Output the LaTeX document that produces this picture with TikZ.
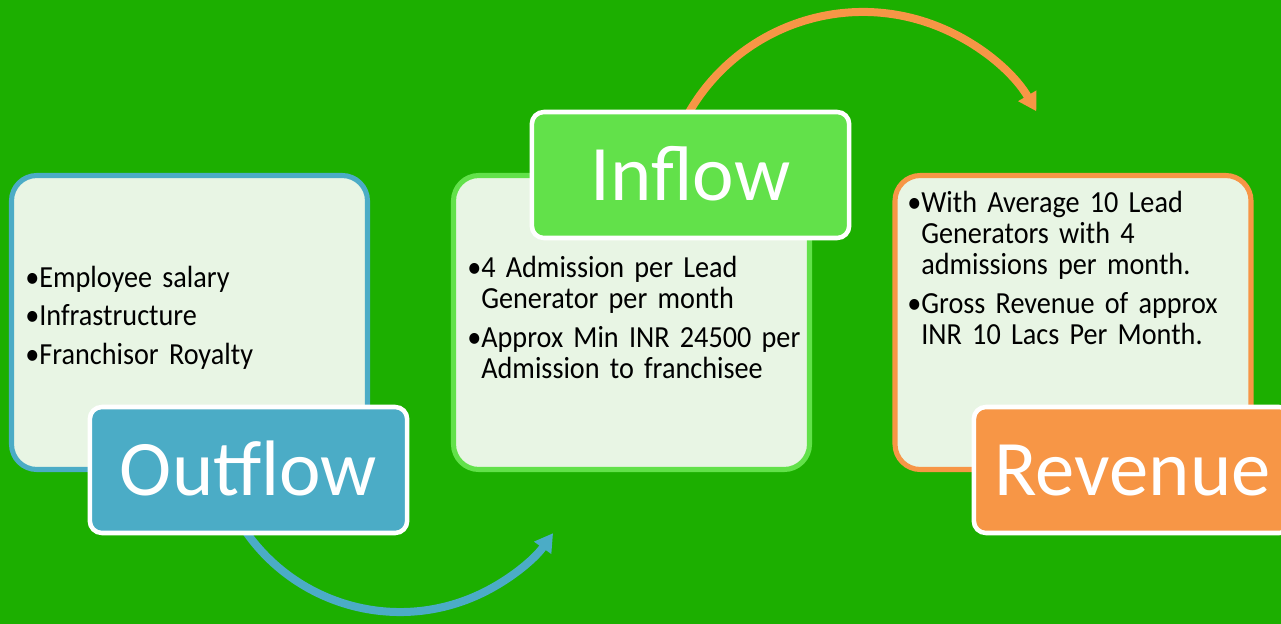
\documentclass[tikz,border=0pt]{standalone}
\usepackage{fontspec}
\setmainfont{Carlito}
\newfontfamily\bodyfont{Carlito}[FakeStretch=0.92]
\usetikzlibrary{arrows.meta}
\definecolor{bggreen}{HTML}{1CAF00}
\definecolor{boxfill}{HTML}{E8F5E4}
\definecolor{cblue}{HTML}{4BACC6}
\definecolor{corange}{HTML}{F79646}
\definecolor{cgreen}{HTML}{62E14A}
\newcommand{\bitem}[1]{\leavevmode\setbox0\hbox{\textbullet}\hangindent=\wd0 \hangafter=1 \textbullet #1\par}
\tikzset{
  contentbox/.style={draw=#1, line width=3.8pt, fill=boxfill, rounded corners=19pt,
    minimum width=267pt, minimum height=220.5pt, inner sep=0pt},
  labelbox/.style={draw=white, line width=3.4pt, fill=#1, rounded corners=9pt,
    minimum width=238pt, minimum height=94.5pt, text=white, inner sep=0pt,
    font=\fontsize{59}{60}\selectfont, text height=38pt, text depth=0pt},
  bullettext/.style={anchor=base west, inner sep=0pt, text width=260pt,
    font=\bodyfont\fontsize{23}{23.6}\selectfont, text=black},
  flowarrow/.style={draw=#1, line width=6pt, -{Triangle[length=13.5pt,width=15pt]}}
}
\begin{document}
\begin{tikzpicture}[x=0.75pt,y=-0.75pt]
\clip (0,0) rectangle (1281,624);
\fill[bggreen] (0,0) rectangle (1281,624);
% arc centres
\coordinate (bluec) at (400,424);
\coordinate (orangec) at (863,213);
\draw[flowarrow=cblue] ([shift={(155:188)}]bluec) arc[start angle=155, end angle=35.5, radius=188];
\draw[flowarrow=corange] ([shift={(200:201)}]orangec) arc[start angle=200, end angle=329.6, radius=201];
% content boxes
\node[contentbox=cblue] (outbox) at (189.5,322.5) {};
\node[contentbox=cgreen] (inbox) at (631.5,322.5) {};
\node[contentbox=corange] (revbox) at (1073,322.5) {};
% texts
\node[bullettext] (outtext) at (25,287) {\parindent=0pt\parskip=5.3pt\relax\bitem{Employee salary}\bitem{Infrastructure}\bitem{Franchisor Royalty}};
\node[bullettext] (intext) at (467,277) {\parindent=0pt\parskip=5.3pt\relax\bitem{4 Admission per Lead\newline Generator per month}\bitem{Approx Min INR 24500 per\newline Admission to franchisee}};
\node[bullettext] (revtext) at (907,212) {\parindent=0pt\parskip=5.3pt\relax\bitem{With Average 10 Lead\newline Generators with 4\newline admissions per month.}\bitem{Gross Revenue of approx\newline INR 10 Lacs Per Month.}};
% label boxes
\node[labelbox=cblue] (outlabel) at (248.5,470) {Outflow};
\node[labelbox=cgreen] (inlabel) at (690.5,175) {Inflow};
\node[labelbox=corange] (revlabel) at (1132.5,470) {Revenue};
\end{tikzpicture}
\end{document}
